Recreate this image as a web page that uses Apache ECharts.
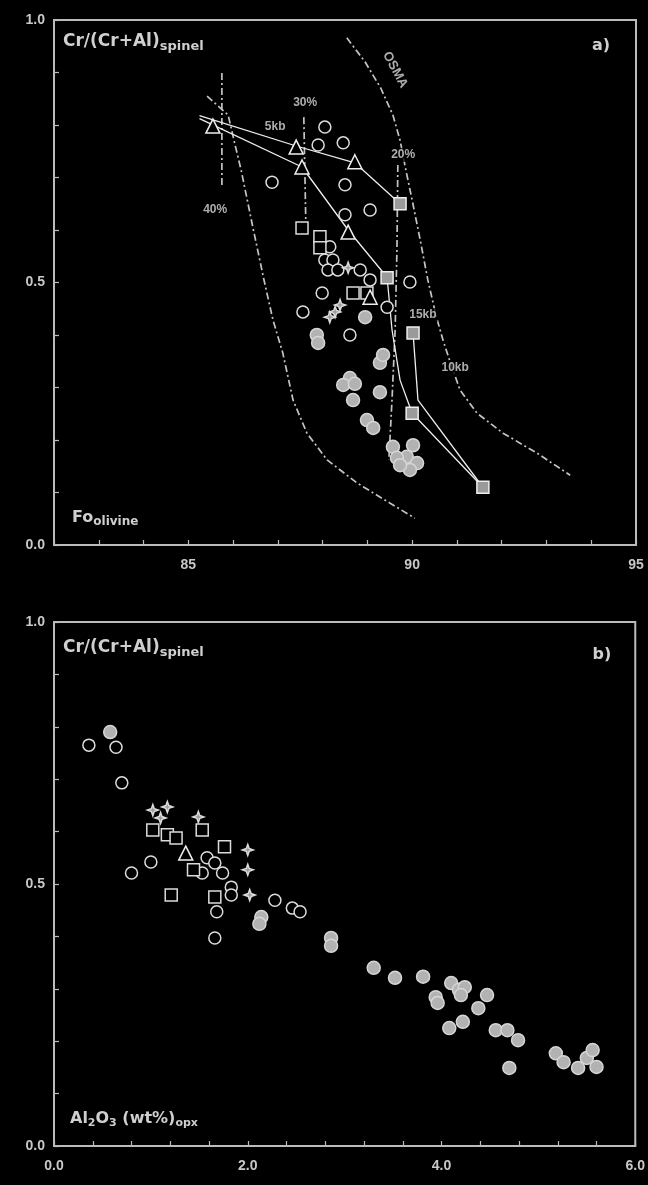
<!DOCTYPE html>
<html><head><meta charset="utf-8">
<script src="https://cdn.jsdelivr.net/npm/echarts@6/dist/echarts.min.js"></script>
<style>html,body{margin:0;padding:0;background:#000}#c{width:648px;height:1185px}</style>
</head><body><div id="c"></div>
<script>
// ---------- tick labels ----------
const foTickLabels = [85, 90, 95];
const crTickLabels = [0, 0.5, 1.0];
const alTickLabels = [0, 2, 4, 6];

// ---------- panel a: reference curves (Fo olivine vs Cr/(Cr+Al) spinel) ----------
const osmaLeftFo  = [85.42,85.89,86.02,86.18,86.44,86.69,86.89,87.11,87.34,87.65,88.10,88.77,89.50,90.06];
const osmaLeftCr  = [0.855,0.819,0.771,0.714,0.606,0.505,0.429,0.366,0.276,0.213,0.162,0.118,0.080,0.051];
const osmaRightFo = [88.54,88.95,89.30,89.57,89.73,89.86,90.00,90.18,90.35,90.53,90.69,90.82,91.07,91.45,92.03,92.79,93.53];
const osmaRightCr = [0.966,0.920,0.870,0.819,0.771,0.714,0.657,0.581,0.505,0.438,0.390,0.356,0.295,0.251,0.213,0.175,0.133];
const melt40Fo = [85.75,85.75];            const melt40Cr = [0.899,0.682];
const melt30Fo = [87.58,87.63];            const melt30Cr = [0.815,0.590];
const melt20Fo = [89.68,89.66,89.62,89.55,89.48]; const melt20Cr = [0.724,0.562,0.410,0.276,0.162];

const trend5kbFo  = [85.25,87.41,88.72,89.73];
const trend5kbCr  = [0.818,0.760,0.728,0.650];
const trend10kbFo = [85.25,87.54,88.57,89.44,89.55,89.73,90.00,91.58];
const trend10kbCr = [0.812,0.720,0.600,0.510,0.410,0.314,0.251,0.110];
const trend15kbFo = [90.02,90.13,91.58];
const trend15kbCr = [0.404,0.276,0.110];

const trendTriFo = [85.55,87.41,88.72,87.54,88.57,89.06];
const trendTriCr = [0.798,0.758,0.730,0.720,0.596,0.472];
const trendSqFo  = [89.73,89.44,90.02,90.00,91.58];
const trendSqCr  = [0.650,0.509,0.404,0.251,0.110];

// ---------- panel a: samples ----------
const aCircleFo = [88.05,88.46,87.90,86.87,88.50,89.06,88.50,88.16,88.05,88.23,88.12,88.34,88.84,89.06,89.95,87.99,89.44,87.56,88.61];
const aCircleCr = [0.796,0.766,0.762,0.691,0.686,0.638,0.629,0.568,0.543,0.543,0.524,0.524,0.524,0.505,0.501,0.480,0.453,0.444,0.400];
const aSquareFo = [87.54,87.94,87.94,88.68,88.99];
const aSquareCr = [0.604,0.587,0.566,0.480,0.480];
const aStarFo = [88.57,88.39,88.28,88.16];
const aStarCr = [0.528,0.457,0.444,0.434];
const aGreyFo = [88.95,87.87,87.90,89.28,89.35,88.61,88.46,88.72,88.68,89.28,88.99,89.13,89.57,90.02,89.88,90.11,89.95,89.66,89.73];
const aGreyCr = [0.434,0.400,0.385,0.347,0.362,0.318,0.305,0.307,0.276,0.291,0.238,0.223,0.187,0.190,0.168,0.156,0.143,0.166,0.152];

// ---------- panel b: Al2O3 opx vs Cr/(Cr+Al) spinel ----------
const bCircleAl = [0.36,0.64,0.70,1.00,0.80,1.58,1.66,1.53,1.74,1.83,1.83,1.68,1.66,2.28,2.46,2.54];
const bCircleCr = [0.765,0.761,0.693,0.542,0.521,0.550,0.540,0.521,0.521,0.494,0.479,0.447,0.397,0.469,0.454,0.447];
const bSquareAl = [1.02,1.17,1.26,1.53,1.76,1.44,1.21,1.66];
const bSquareCr = [0.603,0.594,0.588,0.603,0.571,0.527,0.479,0.475];
const bTriAl = [1.36];
const bTriCr = [0.559];
const bStarAl = [1.02,1.17,1.10,1.49,2.00,2.00,2.02];
const bStarCr = [0.641,0.647,0.626,0.628,0.565,0.527,0.479];
const bGreyAl = [0.58,2.14,2.12,2.86,2.86,3.30,3.52,3.81,3.94,3.96,4.10,4.18,4.24,4.20,4.47,4.38,4.22,4.08,4.56,4.68,4.79,4.70,5.18,5.26,5.41,5.50,5.56,5.60];
const bGreyCr = [0.790,0.437,0.424,0.397,0.382,0.340,0.321,0.323,0.284,0.273,0.311,0.298,0.303,0.288,0.288,0.263,0.237,0.225,0.221,0.221,0.202,0.149,0.177,0.160,0.149,0.168,0.183,0.151];

// ---------- in-plot annotation texts (data coordinates) ----------
const annoText = ['30%','5kb','20%','40%','15kb','10kb'];
const annoFo   = [87.61,86.94,89.80,85.60,90.24,90.96];
const annoCr   = [0.842,0.796,0.743,0.638,0.438,0.337];
const osmaLabelFo = 89.62, osmaLabelCr = 0.905;

// ---------- build ----------
const pts = (xs, ys) => xs.map((x, i) => [x, ys[i]]);
const FG = '#dcdcdc';
const dashDot = [7, 3, 2, 3];
const starPath = 'path://M0,-10 L2.6,-2.6 L10,0 L2.6,2.6 L0,10 L-2.6,2.6 L-10,0 L-2.6,-2.6Z';

function lineS(xs, ys, g, dashed) {
  return { type: 'line', xAxisIndex: g, yAxisIndex: g, data: pts(xs, ys), symbol: 'none', silent: true,
    lineStyle: dashed ? { color: '#c4c4c4', width: 1.7, type: dashDot } : { color: '#eeeeee', width: 1.3 }, z: dashed ? 2 : 3 };
}
function scat(xs, ys, g, kind) {
  const st = {
    circle: { symbol: 'circle', size: 12, fill: '#000', border: FG },
    square: { symbol: 'rect', size: 12, fill: '#000', border: FG },
    tri:    { symbol: 'triangle', size: 14, fill: '#000', border: '#eee' },
    star:   { symbol: starPath, size: 11, fill: '#999', border: FG },
    grey:   { symbol: 'circle', size: 13, fill: '#b2b2b2', border: '#d6d6d6' },
    lsq:    { symbol: 'rect', size: 12, fill: '#9a9a9a', border: '#eee' }
  }[kind];
  return { type: 'scatter', xAxisIndex: g, yAxisIndex: g, data: pts(xs, ys), symbol: st.symbol, symbolSize: st.size,
    itemStyle: { color: st.fill, borderColor: st.border, borderWidth: 1.5, opacity: 1 }, z: 5 };
}

const axisCommon = {
  axisLine: { show: true, lineStyle: { color: '#bbbbbb', width: 2 } },
  splitLine: { show: false },
  axisTick: { show: true, inside: true, length: 5, lineStyle: { color: '#bbbbbb', width: 1.2 } },
  axisLabel: { color: '#c8c8c8', fontSize: 14, fontWeight: 'bold', fontFamily: 'Liberation Sans' }
};
const near = (v, arr) => arr.some(a => Math.abs(a - v) < 1e-6);

const option = {
  backgroundColor: '#000',
  animation: false,
  grid: [
    { left: 54, top: 20, width: 582, height: 525, show: true, borderColor: '#bbbbbb', borderWidth: 2, backgroundColor: 'transparent' },
    { left: 54, top: 622, width: 582, height: 524, show: true, borderColor: '#bbbbbb', borderWidth: 2, backgroundColor: 'transparent' }
  ],
  xAxis: [
    Object.assign({}, axisCommon, { type: 'value', gridIndex: 0, min: 82, max: 95, interval: 1,
      axisLabel: Object.assign({}, axisCommon.axisLabel, { margin: 13, formatter: v => near(v, foTickLabels) ? String(Math.round(v)) : '' }) }),
    Object.assign({}, axisCommon, { type: 'value', gridIndex: 1, min: 0, max: 6, interval: 0.4,
      axisLabel: Object.assign({}, axisCommon.axisLabel, { margin: 13, formatter: v => near(v, alTickLabels) ? (Math.round(v)).toFixed(1) : '' }) })
  ],
  yAxis: [
    Object.assign({}, axisCommon, { type: 'value', gridIndex: 0, min: 0, max: 1, interval: 0.1,
      axisLabel: Object.assign({}, axisCommon.axisLabel, { margin: 9, formatter: v => near(v, crTickLabels) ? v.toFixed(1) : '' }) }),
    Object.assign({}, axisCommon, { type: 'value', gridIndex: 1, min: 0, max: 1, interval: 0.1,
      axisLabel: Object.assign({}, axisCommon.axisLabel, { margin: 9, formatter: v => near(v, crTickLabels) ? v.toFixed(1) : '' }) })
  ],
  series: [
    lineS(osmaLeftFo, osmaLeftCr, 0, true),
    lineS(osmaRightFo, osmaRightCr, 0, true),
    lineS(melt40Fo, melt40Cr, 0, true),
    lineS(melt30Fo, melt30Cr, 0, true),
    lineS(melt20Fo, melt20Cr, 0, true),
    lineS(trend5kbFo, trend5kbCr, 0, false),
    lineS(trend10kbFo, trend10kbCr, 0, false),
    lineS(trend15kbFo, trend15kbCr, 0, false),
    scat(aGreyFo, aGreyCr, 0, 'grey'),
    scat(aCircleFo, aCircleCr, 0, 'circle'),
    scat(aSquareFo, aSquareCr, 0, 'square'),
    scat(aStarFo, aStarCr, 0, 'star'),
    scat(trendTriFo, trendTriCr, 0, 'tri'),
    scat(trendSqFo, trendSqCr, 0, 'lsq'),
    { type: 'scatter', xAxisIndex: 0, yAxisIndex: 0, symbolSize: 0, silent: true, z: 8,
      data: annoText.map((t, i) => ({ name: t, value: [annoFo[i], annoCr[i]] })),
      label: { show: true, position: 'inside', formatter: p => p.name, color: '#d8d8d8', fontSize: 12,
        fontWeight: 'bold', fontFamily: 'Liberation Sans', backgroundColor: '#000', padding: [1, 1] } },
    { type: 'scatter', xAxisIndex: 0, yAxisIndex: 0, symbolSize: 0, silent: true, z: 8,
      data: [{ name: 'OSMA', value: [osmaLabelFo, osmaLabelCr] }],
      label: { show: true, position: 'inside', rotate: -62, formatter: p => p.name, color: '#d8d8d8', fontSize: 13,
        fontWeight: 'bold', fontFamily: 'Liberation Sans' } },
    scat(bGreyAl, bGreyCr, 1, 'grey'),
    scat(bCircleAl, bCircleCr, 1, 'circle'),
    scat(bSquareAl, bSquareCr, 1, 'square'),
    scat(bStarAl, bStarCr, 1, 'star'),
    scat(bTriAl, bTriCr, 1, 'tri')
  ],
  graphic: [
    { type: 'text', x: 63, y: 42, z: 10, style: { text: '{m|Cr/(Cr+Al)}{s|spinel}', verticalAlign: 'middle',
      rich: { m: { fontSize: 17, fontWeight: 'bold', fill: '#cfcfcf', fontFamily: 'DejaVu Sans' },
              s: { fontSize: 13, fontWeight: 'bold', fill: '#cfcfcf', fontFamily: 'DejaVu Sans', padding: [9, 0, 0, 0] } } } },
    { type: 'text', x: 601, y: 46, z: 10, style: { text: 'a)', fontSize: 16, fontWeight: 'bold', fill: '#cfcfcf', fontFamily: 'DejaVu Sans', align: 'center', verticalAlign: 'middle' } },
    { type: 'text', x: 72, y: 518, z: 10, style: { text: '{m|Fo}{s|olivine}', verticalAlign: 'middle',
      rich: { m: { fontSize: 16, fontWeight: 'bold', fill: '#cfcfcf', fontFamily: 'DejaVu Sans' },
              s: { fontSize: 12, fontWeight: 'bold', fill: '#cfcfcf', fontFamily: 'DejaVu Sans', padding: [8, 0, 0, 0] } } } },
    { type: 'text', x: 63, y: 648, z: 10, style: { text: '{m|Cr/(Cr+Al)}{s|spinel}', verticalAlign: 'middle',
      rich: { m: { fontSize: 17, fontWeight: 'bold', fill: '#cfcfcf', fontFamily: 'DejaVu Sans' },
              s: { fontSize: 13, fontWeight: 'bold', fill: '#cfcfcf', fontFamily: 'DejaVu Sans', padding: [9, 0, 0, 0] } } } },
    { type: 'text', x: 602, y: 655, z: 10, style: { text: 'b)', fontSize: 16, fontWeight: 'bold', fill: '#cfcfcf', fontFamily: 'DejaVu Sans', align: 'center', verticalAlign: 'middle' } },
    { type: 'text', x: 70, y: 1119, z: 10, style: { text: '{m|Al}{s|2}{m|O}{s|3}{m| (wt%)}{s|opx}', verticalAlign: 'middle',
      rich: { m: { fontSize: 16, fontWeight: 'bold', fill: '#cfcfcf', fontFamily: 'DejaVu Sans' },
              s: { fontSize: 11, fontWeight: 'bold', fill: '#cfcfcf', fontFamily: 'DejaVu Sans', padding: [8, 0, 0, 0] } } } }
  ]
};
const chart = echarts.init(document.getElementById('c'), null, { renderer: 'canvas' });
chart.setOption(option);
</script></body></html>
